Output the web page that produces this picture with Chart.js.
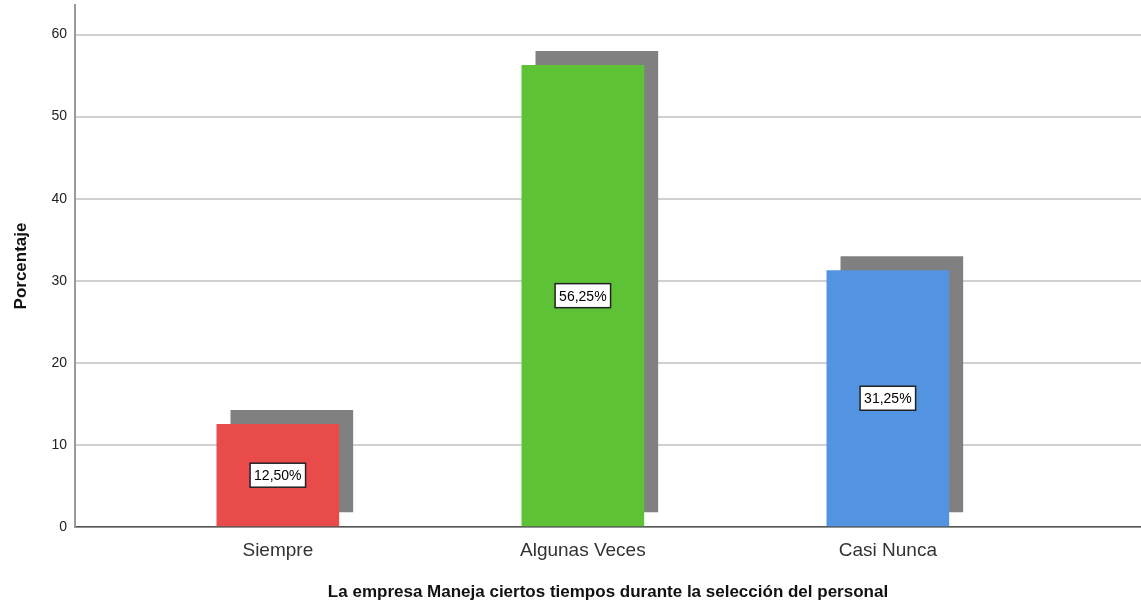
<!DOCTYPE html>
<html lang="es">
<head>
<meta charset="UTF-8">
<title>Porcentaje</title>
<script src="https://cdn.jsdelivr.net/npm/chart.js"></script>
<style>
  html, body { margin: 0; padding: 0; background: #fff; }
  #wrap { width: 1141px; height: 609px; }
</style>
</head>
<body>
<div id="wrap"><canvas id="chart"></canvas></div>
<script>
// chart data
const categories = ['Siempre', 'Algunas Veces', 'Casi Nunca'];
const percentages = [12.5, 56.25, 31.25];
const pctLabels = ['12,50%', '56,25%', '31,25%'];
const barColors = ['#e94b4b', '#5ec237', '#5294e2'];
const yTicks = [0, 10, 20, 30, 40, 50, 60];

// grey offset "3D" shadow behind each bar
const shadowPlugin = {
  id: 'barShadow',
  beforeDatasetDraw(chart) {
    const ctx = chart.ctx;
    ctx.save();
    ctx.shadowColor = '#808080';
    ctx.shadowBlur = 0;
    ctx.shadowOffsetX = 14;
    ctx.shadowOffsetY = -14;
  },
  afterDatasetDraw(chart) {
    chart.ctx.restore();
  }
};

// boxed value label at the middle of each bar
const boxLabels = {
  id: 'boxLabels',
  afterDatasetsDraw(chart) {
    const ctx = chart.ctx;
    const meta = chart.getDatasetMeta(0);
    ctx.save();
    ctx.font = '14px "Liberation Sans", Arial, sans-serif';
    ctx.textAlign = 'center';
    ctx.textBaseline = 'middle';
    meta.data.forEach((bar, i) => {
      const cx = bar.x;
      const cy = (bar.y + bar.base) / 2;
      const w = ctx.measureText(pctLabels[i]).width + 8;
      const h = 24;
      ctx.fillStyle = '#fff';
      ctx.fillRect(cx - w / 2, cy - h / 2, w, h);
      ctx.strokeStyle = '#222';
      ctx.lineWidth = 1.5;
      ctx.strokeRect(cx - w / 2, cy - h / 2, w, h);
      ctx.fillStyle = '#000';
      ctx.fillText(pctLabels[i], cx, cy + 1);
    });
    ctx.restore();
  }
};

new Chart(document.getElementById('chart'), {
  type: 'bar',
  data: {
    datasets: [{
      data: percentages.map((v, i) => ({ x: i + 1, y: v })),
      backgroundColor: barColors,
      borderWidth: 0,
      barThickness: 122
    }]
  },
  options: {
    responsive: true,
    maintainAspectRatio: false,
    animation: false,
    layout: { padding: { top: 5, right: 0, left: 0, bottom: 0 } },
    plugins: { legend: { display: false }, tooltip: { enabled: false } },
    scales: {
      x: {
        type: 'linear',
        offset: false,
        min: 0.335,
        max: 3.83,
        afterFit(s) { s.height = 82; s.paddingLeft = 0; s.paddingRight = 0; },
        grid: { display: false, drawTicks: false },
        border: { color: '#555', width: 1.5 },
        ticks: {
          stepSize: 1,
          includeBounds: false,
          padding: 12,
          color: '#333',
          font: { size: 19, family: '"Liberation Sans", Arial, sans-serif' },
          callback: v => categories[v - 1] || ''
        },
        title: {
          display: true,
          text: 'La empresa Maneja ciertos tiempos durante la selección del personal',
          color: '#111',
          font: { size: 17, weight: 'bold', family: '"Liberation Sans", Arial, sans-serif' },
          padding: { top: 0, bottom: 6 }
        }
      },
      y: {
        min: 0,
        max: 63.6,
        afterFit(s) { s.width = 75; s.paddingTop = 0; s.paddingBottom = 0; },
        afterBuildTicks(s) { s.ticks = yTicks.map(v => ({ value: v })); },
        grid: { color: '#d0d0d0', lineWidth: 2, drawTicks: false },
        border: { color: '#9a9a9a', width: 2 },
        ticks: {
          padding: 8,
          color: '#222',
          font: { size: 14, family: '"Liberation Sans", Arial, sans-serif' }
        },
        title: {
          display: true,
          text: 'Porcentaje',
          color: '#111',
          font: { size: 17, weight: 'bold', family: '"Liberation Sans", Arial, sans-serif' },
          padding: { top: 11, bottom: 4 }
        }
      }
    }
  },
  plugins: [shadowPlugin, boxLabels]
});
</script>
</body>
</html>
